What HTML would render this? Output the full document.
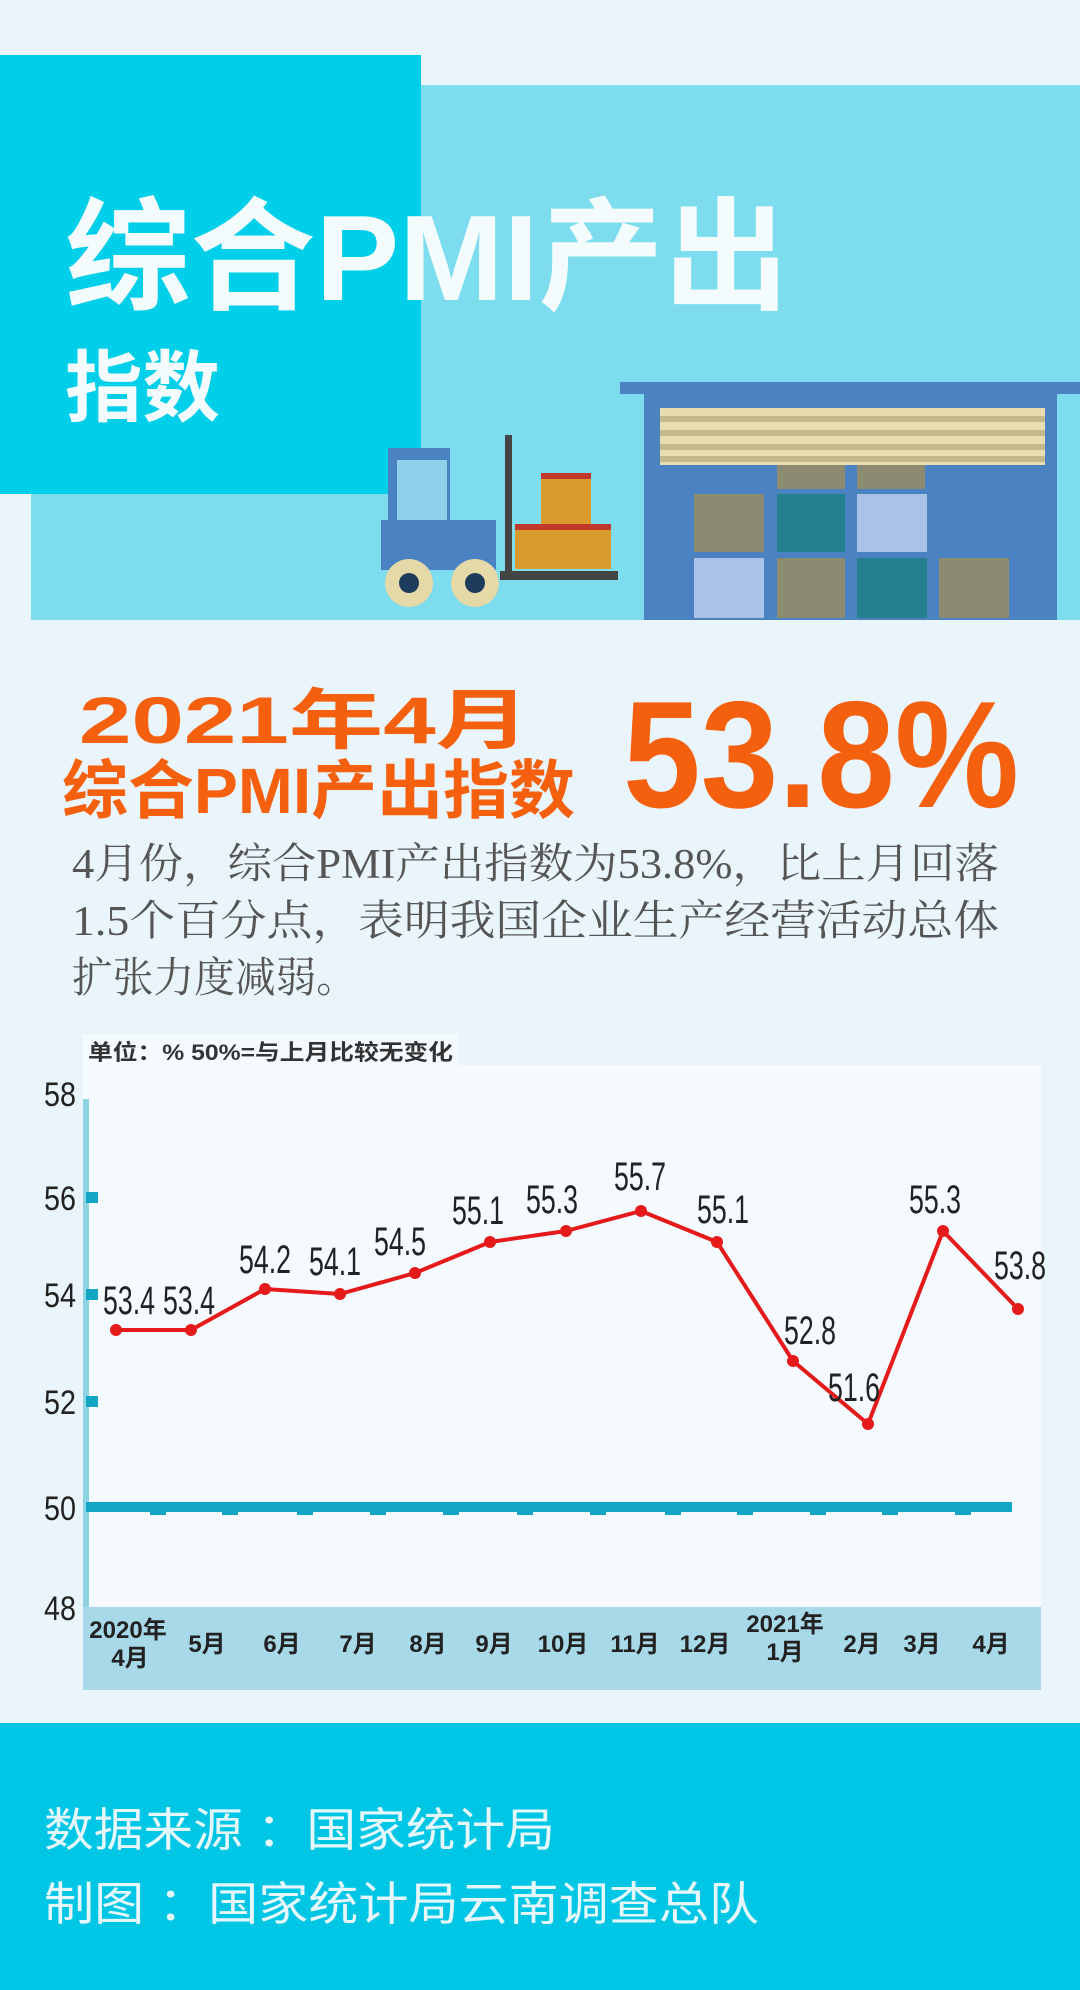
<!DOCTYPE html>
<html><head><meta charset="utf-8"><style>
html,body{margin:0;padding:0;background:#e9f4fb;}
svg{display:block}
</style></head><body>
<svg width="1080" height="1990" viewBox="0 0 1080 1990" xmlns="http://www.w3.org/2000/svg">
<rect width="1080" height="1990" fill="#e9f4fb"/>
<!-- header -->
<rect x="31" y="85" width="1049" height="535" fill="#7ddcee"/>
<rect x="0" y="55" width="421" height="439" fill="#00cfe9"/>
<text x="65" y="300" textLength="724" lengthAdjust="spacingAndGlyphs" font-family="Liberation Sans, Noto Sans CJK SC, sans-serif" font-weight="bold" font-size="122" fill="#f4fbfd">综合PMI产出</text>
<text x="65" y="415" textLength="155" lengthAdjust="spacingAndGlyphs" font-family="Noto Sans CJK SC, sans-serif" font-weight="bold" font-size="78" fill="#f4fbfd">指数</text>
<!-- warehouse -->
<rect x="620" y="382" width="460" height="12" fill="#4a82c2"/>
<rect x="644" y="390" width="413" height="230" fill="#4a82c2"/>
<rect x="660" y="408" width="385" height="57" fill="#e8dcb0"/>
<g fill="#c4b98c"><rect x="660" y="416" width="385" height="6"/><rect x="660" y="430" width="385" height="6"/><rect x="660" y="444" width="385" height="6"/><rect x="660" y="456" width="385" height="6"/></g>
<rect x="777" y="465" width="68" height="24" fill="#8c8a70"/>
<rect x="857" y="465" width="68" height="24" fill="#8c8a70"/>
<rect x="694" y="494" width="70" height="58" fill="#8c8a70"/>
<rect x="777" y="494" width="68" height="58" fill="#24808f"/>
<rect x="857" y="494" width="70" height="58" fill="#a9c2e6"/>
<rect x="694" y="558" width="70" height="60" fill="#a9c2e6"/>
<rect x="777" y="558" width="68" height="60" fill="#8c8a70"/>
<rect x="857" y="558" width="70" height="60" fill="#24808f"/>
<rect x="939" y="558" width="70" height="60" fill="#8c8a70"/>
<!-- forklift -->
<rect x="388" y="448" width="62" height="90" fill="#4a82c2"/>
<rect x="397" y="460" width="50" height="60" fill="#8fd0ea"/>
<rect x="381" y="520" width="115" height="50" fill="#4a82c2"/>
<rect x="505" y="435" width="7" height="143" fill="#444"/>
<rect x="500" y="571" width="118" height="9" fill="#444"/>
<rect x="541" y="474" width="50" height="52" fill="#d99a2e"/>
<rect x="541" y="473" width="50" height="6" fill="#c0392b"/>
<rect x="515" y="525" width="96" height="44" fill="#d99a2e"/>
<rect x="515" y="524" width="96" height="6" fill="#c0392b"/>
<circle cx="409" cy="583" r="24" fill="#e5d9a8"/><circle cx="409" cy="583" r="10" fill="#1e3d5c"/>
<circle cx="475" cy="583" r="24" fill="#e5d9a8"/><circle cx="475" cy="583" r="10" fill="#1e3d5c"/>
<!-- orange headline -->
<text x="79" y="743" textLength="451" lengthAdjust="spacingAndGlyphs" font-family="Liberation Sans, Noto Sans CJK SC, sans-serif" font-weight="bold" font-size="66" fill="#f5600f">2021年4月</text>
<text x="62" y="813" textLength="513" lengthAdjust="spacingAndGlyphs" font-family="Liberation Sans, Noto Sans CJK SC, sans-serif" font-weight="bold" font-size="64" fill="#f5600f">综合PMI产出指数</text>
<text x="623" y="807" textLength="396" lengthAdjust="spacingAndGlyphs" font-family="Liberation Sans, sans-serif" font-weight="bold" font-size="152" fill="#f5600f">53.8%</text>
<!-- paragraph -->
<g font-family="Liberation Serif, Noto Serif CJK SC, serif" font-size="42" fill="#555">
<text x="72" y="878" textLength="927" lengthAdjust="spacingAndGlyphs">4月份，综合PMI产出指数为53.8%，比上月回落</text>
<text x="72" y="935" textLength="927" lengthAdjust="spacingAndGlyphs">1.5个百分点，表明我国企业生产经营活动总体</text>
<text x="72" y="992" textLength="285" lengthAdjust="spacingAndGlyphs">扩张力度减弱。</text>
</g>
<!-- chart -->
<rect x="83" y="1065" width="958" height="625" fill="#f5fafe"/>
<rect x="83" y="1034" width="375" height="33" fill="#f5fafe"/>
<text x="88" y="1060" textLength="365" lengthAdjust="spacingAndGlyphs" font-family="Liberation Sans, Noto Sans CJK SC, sans-serif" font-weight="bold" font-size="22" fill="#333">单位：%  50%=与上月比较无变化</text>
<rect x="83" y="1607" width="958" height="83" fill="#a8d9e8"/>
<rect x="83" y="1099" width="6" height="508" fill="#8fd3e3"/>
<g fill="#12a6c4"><rect x="86" y="1192" width="12" height="11"/><rect x="86" y="1289" width="12" height="11"/><rect x="86" y="1396" width="12" height="11"/></g>
<rect x="86" y="1502" width="926" height="10" fill="#12a6c4"/>
<g fill="#12a6c4"><rect x="150" y="1510" width="16" height="5"/><rect x="222" y="1510" width="16" height="5"/><rect x="297" y="1510" width="16" height="5"/><rect x="370" y="1510" width="16" height="5"/><rect x="443" y="1510" width="16" height="5"/><rect x="517" y="1510" width="16" height="5"/><rect x="590" y="1510" width="16" height="5"/><rect x="665" y="1510" width="16" height="5"/><rect x="737" y="1510" width="16" height="5"/><rect x="810" y="1510" width="16" height="5"/><rect x="882" y="1510" width="16" height="5"/><rect x="955" y="1510" width="16" height="5"/></g>
<g font-family="Liberation Sans, sans-serif" font-size="34" fill="#222" lengthAdjust="spacingAndGlyphs">
<text x="44" y="1106" textLength="32" lengthAdjust="spacingAndGlyphs">58</text><text x="44" y="1210" textLength="32" lengthAdjust="spacingAndGlyphs">56</text><text x="44" y="1307" textLength="32" lengthAdjust="spacingAndGlyphs">54</text><text x="44" y="1414" textLength="32" lengthAdjust="spacingAndGlyphs">52</text><text x="44" y="1520" textLength="32" lengthAdjust="spacingAndGlyphs">50</text><text x="44" y="1620" textLength="32" lengthAdjust="spacingAndGlyphs">48</text>
</g>
<polyline fill="none" stroke="#e51a1a" stroke-width="4" stroke-linejoin="round" points="116,1330 191,1330 265,1289 340,1294 415,1273 490,1242 566,1231 641,1211 717,1242 793,1361 868,1424 943,1231 1018,1309"/>
<g fill="#e51a1a"><circle cx="116" cy="1330" r="6"/><circle cx="191" cy="1330" r="6"/><circle cx="265" cy="1289" r="6"/><circle cx="340" cy="1294" r="6"/><circle cx="415" cy="1273" r="6"/><circle cx="490" cy="1242" r="6"/><circle cx="566" cy="1231" r="6"/><circle cx="641" cy="1211" r="6"/><circle cx="717" cy="1242" r="6"/><circle cx="793" cy="1361" r="6"/><circle cx="868" cy="1424" r="6"/><circle cx="943" cy="1231" r="6"/><circle cx="1018" cy="1309" r="6"/></g>
<g font-family="Liberation Sans, sans-serif" font-size="40" fill="#222">
<text x="103" y="1314" textLength="52" lengthAdjust="spacingAndGlyphs">53.4</text>
<text x="163" y="1314" textLength="52" lengthAdjust="spacingAndGlyphs">53.4</text>
<text x="239" y="1273" textLength="52" lengthAdjust="spacingAndGlyphs">54.2</text>
<text x="309" y="1275" textLength="52" lengthAdjust="spacingAndGlyphs">54.1</text>
<text x="374" y="1255" textLength="52" lengthAdjust="spacingAndGlyphs">54.5</text>
<text x="452" y="1224" textLength="52" lengthAdjust="spacingAndGlyphs">55.1</text>
<text x="526" y="1213" textLength="52" lengthAdjust="spacingAndGlyphs">55.3</text>
<text x="614" y="1190" textLength="52" lengthAdjust="spacingAndGlyphs">55.7</text>
<text x="697" y="1223" textLength="52" lengthAdjust="spacingAndGlyphs">55.1</text>
<text x="784" y="1344" textLength="52" lengthAdjust="spacingAndGlyphs">52.8</text>
<text x="828" y="1401" textLength="52" lengthAdjust="spacingAndGlyphs">51.6</text>
<text x="909" y="1213" textLength="52" lengthAdjust="spacingAndGlyphs">55.3</text>
<text x="994" y="1279" textLength="52" lengthAdjust="spacingAndGlyphs">53.8</text>
</g>
<g font-family="Liberation Sans, Noto Sans CJK SC, sans-serif" font-weight="bold" font-size="24" fill="#222" text-anchor="middle">
<text x="128" y="1638">2020年</text><text x="130" y="1666">4月</text>
<text x="207" y="1652">5月</text><text x="282" y="1652">6月</text><text x="358" y="1652">7月</text><text x="428" y="1652">8月</text><text x="494" y="1652">9月</text><text x="563" y="1652">10月</text><text x="635" y="1652">11月</text><text x="705" y="1652">12月</text>
<text x="785" y="1632">2021年</text><text x="785" y="1660">1月</text>
<text x="862" y="1652">2月</text><text x="922" y="1652">3月</text><text x="991" y="1652">4月</text>
</g>
<!-- footer -->
<rect x="0" y="1723" width="1080" height="267" fill="#00c6e6"/>
<g font-family="Liberation Sans, Noto Sans CJK SC, sans-serif" font-size="46" fill="#e6f7fb">
<text x="44" y="1846" textLength="511" lengthAdjust="spacingAndGlyphs">数据来源 ：国家统计局</text>
<text x="44" y="1920" textLength="715" lengthAdjust="spacingAndGlyphs">制图 ：国家统计局云南调查总队</text>
</g>
</svg>
</body></html>
